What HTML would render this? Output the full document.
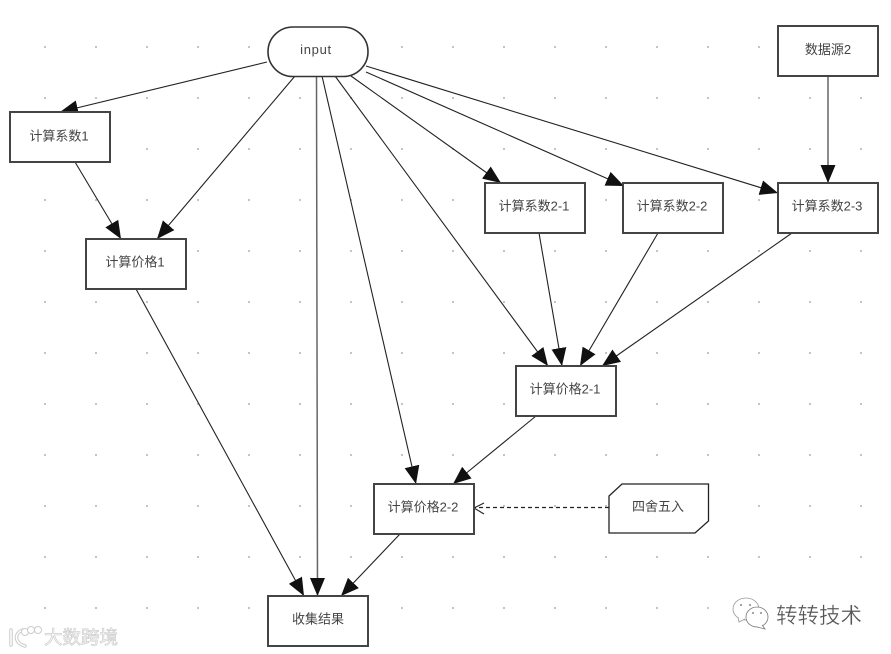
<!DOCTYPE html>
<html><head><meta charset="utf-8"><style>
html,body{margin:0;padding:0;background:#fff;width:891px;height:654px;overflow:hidden}
svg{display:block}
text{font-family:"Liberation Sans","WenQuanYi Zen Hei","Noto Sans CJK SC",sans-serif;font-size:13px;fill:#444;text-anchor:middle}
.b{fill:#fff;stroke:#444;stroke-width:2}
.e{stroke:#222;stroke-width:1.1;fill:none;marker-end:url(#a)}
</style></head><body>
<svg width="891" height="654" viewBox="0 0 891 654" xmlns="http://www.w3.org/2000/svg">
<defs>
<marker id="a" markerUnits="userSpaceOnUse" markerWidth="20" markerHeight="18" refX="18" refY="8" orient="auto"><path d="M0,0.5 L18,8 L0,15.5 z" fill="#111"/></marker>
<pattern id="d" x="44" y="46" width="51" height="51" patternUnits="userSpaceOnUse"><rect width="2" height="2" fill="#c4c4c4"/></pattern>
</defs>
<rect x="44" y="46" width="820" height="564" fill="url(#d)"/>
<rect x="720" y="598" width="171" height="56" fill="#fff"/>

<line class="e" x1="267" y1="62" x2="60" y2="112"/>
<line class="e" x1="295" y1="76" x2="157" y2="239"/>
<line class="e" x1="75" y1="162" x2="121" y2="239"/>
<line class="e" x1="136" y1="289" x2="304" y2="596"/>
<line class="e" x1="316.5" y1="76" x2="317.5" y2="596" style="stroke:#666;stroke-width:1.5"/>
<line class="e" x1="322" y1="76" x2="416" y2="484"/>
<line class="e" x1="335" y1="76" x2="548" y2="366"/>
<line class="e" x1="351" y1="76" x2="501" y2="183"/>
<line class="e" x1="366" y1="72" x2="624" y2="186"/>
<line class="e" x1="366" y1="66" x2="778" y2="193"/>
<line class="e" x1="828" y1="76" x2="828" y2="183" style="stroke:#666;stroke-width:1.5"/>
<line class="e" x1="539" y1="233" x2="562" y2="366"/>
<line class="e" x1="658" y1="233" x2="580" y2="366"/>
<line class="e" x1="792" y1="233" x2="602" y2="366"/>
<line class="e" x1="536" y1="416" x2="453" y2="484"/>
<line class="e" x1="400" y1="534" x2="341" y2="596"/>
<path d="M609,507.500 L475,507.500" fill="none" stroke="#222" stroke-width="1.2" stroke-dasharray="4 3"/>
<path d="M484,503 L474,508 L484,514" fill="none" stroke="#222" stroke-width="1.1"/>

<rect class="b" x="268" y="27" width="100" height="49.500" rx="25" ry="24.700" style="stroke:#333;stroke-width:1.6"/>
<rect class="b" x="10" y="112" width="100" height="50"/>
<rect class="b" x="86" y="239" width="100" height="50"/>
<rect class="b" x="485" y="183" width="100" height="50"/>
<rect class="b" x="623" y="183" width="100" height="50"/>
<rect class="b" x="778" y="183" width="100" height="50"/>
<rect class="b" x="778" y="26" width="100" height="50"/>
<rect class="b" x="516" y="366" width="100" height="50"/>
<rect class="b" x="374" y="484" width="100" height="50"/>
<rect class="b" x="268" y="596" width="100" height="50"/>
<path d="M622,484 H708.500 V521 L695,533 H609 V496 z" fill="#fff" stroke="#222" stroke-width="1.3"/>

<text x="316" y="54" style="letter-spacing:.7px">input</text>
<text x="59" y="140.500">计算系数1</text>
<text x="135" y="266.500">计算价格1</text>
<text x="534" y="210.500">计算系数2-1</text>
<text x="672" y="210.500">计算系数2-2</text>
<text x="827" y="210.500">计算系数2-3</text>
<text x="828" y="54">数据源2</text>
<text x="565" y="393.500">计算价格2-1</text>
<text x="423" y="511.500">计算价格2-2</text>
<text x="658" y="511">四舍五入</text>
<text x="318" y="623.500">收集结果</text>

<g fill="#fff" stroke="#999" stroke-width="1">
<ellipse cx="746" cy="609" rx="13" ry="11" stroke-width=".8"/>
<path d="M738,617 L739,622 L745,619" stroke-width=".8"/>
<ellipse cx="757" cy="617" rx="11" ry="10" stroke="#777" stroke-width=".8"/>
<path d="M762,625 L765,629 L757,627" stroke="#777" stroke-width=".8"/>
</g>
<g fill="#888"><circle cx="741" cy="605" r="1"/><circle cx="750" cy="605" r="1"/><circle cx="753" cy="613" r="1"/><circle cx="761" cy="613" r="1"/></g>
<text x="819" y="623" style="font-size:21.500px;fill:#555;stroke:#fff;stroke-width:.3">转转技术</text>

<g fill="none" stroke="#ccc" stroke-width="3.500" stroke-linecap="round">
<path d="M11,630 L11,645 M23,630 C14,633 14,643 25,646"/>
</g>
<g fill="none" stroke="#fff" stroke-width="1.500" stroke-linecap="round">
<path d="M11,630 L11,645 M23,630 C14,633 14,643 25,646"/>
</g>
<g fill="#fff" stroke="#ccc" stroke-width="1">
<circle cx="25" cy="632" r="3.500"/><circle cx="31" cy="630" r="3.500"/><circle cx="38" cy="630" r="3.500"/>
</g>
<text x="81" y="644" style="font-size:18.500px;fill:#fff;stroke:#ccc;stroke-width:.7">大数跨境</text>
</svg>
</body></html>
